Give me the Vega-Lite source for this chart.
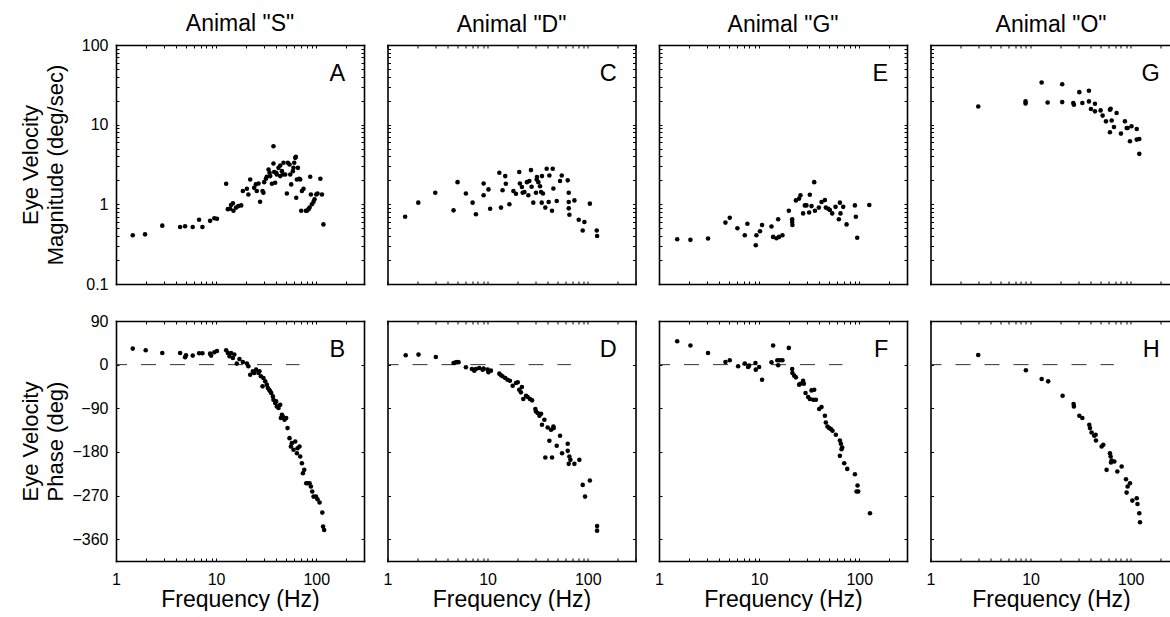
{
  "$schema": "https://vega.github.io/schema/vega-lite/v6.json",
  "padding": {"left": 18, "top": 13, "right": 0, "bottom": 0},
  "config": {
    "view": {"stroke": null},
    "font": "Liberation Sans",
    "axis": {
      "grid": false,
      "domainColor": "black",
      "domainWidth": 1.6,
      "domainCap": "square",
      "tickColor": "black",
      "tickWidth": 1,
      "tickSize": -3,
      "labelColor": "black",
      "labelFont": "Liberation Sans",
      "labelFontSize": 16,
      "labelFlush": false,
      "labelOverlap": false,
      "titleColor": "black",
      "titleFont": "Liberation Sans",
      "titleFontWeight": "normal"
    },
    "title": {"font": "Liberation Sans", "fontSize": 23, "fontWeight": "normal", "color": "black", "frame": "group", "anchor": "middle", "offset": 8},
    "circle": {"size": 21, "color": "black", "opacity": 1},
    "text": {"font": "Liberation Sans", "fontSize": 23.5, "color": "black", "align": "right", "baseline": "alphabetic"}
  },
  "datasets": {
    "S_mag": [
      {"f":1.47,"v":0.41},{"f":1.95,"v":0.42},{"f":2.9,"v":0.54},{"f":4.37,"v":0.52},{"f":4.9,"v":0.53},{"f":5.84,"v":0.52},{"f":6.76,"v":0.64},{"f":7.3,"v":0.52},{"f":8.71,"v":0.62},{"f":9.6,"v":0.67},{"f":10.2,"v":0.66},{"f":12.6,"v":1.81},{"f":13.1,"v":0.87},{"f":13.8,"v":0.88},{"f":14.1,"v":0.98},{"f":14.7,"v":1.03},{"f":14.9,"v":0.83},{"f":15.8,"v":0.91},{"f":16.7,"v":0.95},{"f":17.8,"v":0.97},{"f":18.5,"v":1.47},{"f":20.3,"v":1.57},{"f":21.0,"v":1.33},{"f":21.9,"v":2.05},{"f":24.0,"v":1.61},{"f":24.9,"v":1.78},{"f":25.5,"v":1.47},{"f":26.5,"v":1.83},{"f":27.5,"v":1.08},{"f":29.1,"v":1.47},{"f":29.7,"v":1.4},{"f":30.2,"v":1.9},{"f":31.4,"v":2.09},{"f":32.1,"v":2.22},{"f":33.4,"v":2.74},{"f":34.2,"v":2.49},{"f":34.7,"v":2.26},{"f":36.1,"v":1.81},{"f":37.4,"v":5.36},{"f":37.4,"v":3.25},{"f":38.0,"v":2.54},{"f":38.9,"v":1.87},{"f":39.8,"v":2.49},{"f":40.4,"v":2.37},{"f":42.0,"v":2.87},{"f":43.7,"v":3.07},{"f":43.7,"v":2.26},{"f":45.4,"v":2.61},{"f":46.4,"v":2.37},{"f":47.1,"v":3.32},{"f":49.0,"v":2.37},{"f":50.9,"v":1.37},{"f":52.1,"v":3.32},{"f":54.1,"v":3.16},{"f":55.0,"v":2.37},{"f":56.2,"v":1.78},{"f":58.4,"v":2.61},{"f":59.3,"v":2.87},{"f":60.3,"v":3.32},{"f":61.7,"v":3.83},{"f":62.6,"v":3.94},{"f":63.1,"v":1.21},{"f":64.1,"v":2.05},{"f":65.6,"v":2.87},{"f":67.6,"v":2.09},{"f":69.2,"v":2.05},{"f":70.8,"v":0.83},{"f":71.9,"v":1.47},{"f":74.7,"v":1.57},{"f":78.8,"v":0.83},{"f":80.7,"v":0.83},{"f":83.8,"v":0.87},{"f":85.8,"v":0.91},{"f":87.1,"v":2.22},{"f":88.4,"v":1.33},{"f":90.5,"v":1.0},{"f":94.0,"v":1.08},{"f":96.2,"v":1.16},{"f":100,"v":1.33},{"f":103,"v":1.37},{"f":110,"v":2.09},{"f":114,"v":1.33},{"f":118,"v":0.56}
    ],
    "S_ph": [
      {"f":1.47,"p":33.1},{"f":1.98,"p":29.6},{"f":2.9,"p":24.1},{"f":4.37,"p":24.1},{"f":4.9,"p":15.2},{"f":5.0,"p":19.3},{"f":5.84,"p":18.6},{"f":6.76,"p":23.4},{"f":7.3,"p":23.4},{"f":8.71,"p":22.7},{"f":8.91,"p":18.6},{"f":9.6,"p":25.5},{"f":10.2,"p":28.2},{"f":12.6,"p":29.6},{"f":13.1,"p":24.1},{"f":13.6,"p":17.2},{"f":14.1,"p":24.1},{"f":14.7,"p":13.8},{"f":15.2,"p":20.7},{"f":16.1,"p":2.1},{"f":17.1,"p":11.7},{"f":18.5,"p":5.5},{"f":20.3,"p":2.1},{"f":21.0,"p":-3.4},{"f":21.9,"p":-20.7},{"f":23.3,"p":-13.8},{"f":24.0,"p":-17.2},{"f":25.1,"p":-10.3},{"f":26.5,"p":-17.2},{"f":27.1,"p":-13.8},{"f":28.0,"p":-24.1},{"f":29.1,"p":-44.8},{"f":29.7,"p":-27.6},{"f":30.9,"p":-34.5},{"f":32.1,"p":-41.3},{"f":32.9,"p":-48.2},{"f":33.9,"p":-51.7},{"f":34.7,"p":-55.1},{"f":35.5,"p":-58.6},{"f":36.9,"p":-65.5},{"f":37.4,"p":-72.3},{"f":38.9,"p":-79.2},{"f":39.8,"p":-75.8},{"f":40.4,"p":-86.1},{"f":42.0,"p":-89.6},{"f":43.7,"p":-82.7},{"f":44.3,"p":-110.2},{"f":45.4,"p":-103.4},{"f":46.4,"p":-106.8},{"f":48.2,"p":-113.7},{"f":50.1,"p":-110.2},{"f":51.7,"p":-130.9},{"f":54.1,"p":-151.6},{"f":55.8,"p":-168.8},{"f":57.1,"p":-161.9},{"f":59.3,"p":-175.7},{"f":61.7,"p":-158.5},{"f":64.1,"p":-182.6},{"f":65.0,"p":-172.3},{"f":68.1,"p":-168.8},{"f":69.2,"p":-189.5},{"f":71.9,"p":-203.3},{"f":73.6,"p":-223.9},{"f":75.9,"p":-217},{"f":79.4,"p":-244.6},{"f":81.9,"p":-244.6},{"f":85.8,"p":-244.6},{"f":88.4,"p":-251.5},{"f":91.2,"p":-261.8},{"f":94.0,"p":-272.2},{"f":99.3,"p":-272.2},{"f":103,"p":-277.6},{"f":108,"p":-284.5},{"f":115,"p":-305.2},{"f":117,"p":-334.1},{"f":120,"p":-341}
    ],
    "D_mag": [
      {"f":1.5,"v":0.7},{"f":2.03,"v":1.05},{"f":3.0,"v":1.4},{"f":4.57,"v":0.84},{"f":5.01,"v":1.9},{"f":6.07,"v":1.37},{"f":7.08,"v":1.05},{"f":7.64,"v":0.75},{"f":9.12,"v":1.83},{"f":9.12,"v":1.3},{"f":10.2,"v":1.54},{"f":10.6,"v":0.88},{"f":13.1,"v":2.49},{"f":13.6,"v":0.91},{"f":14.1,"v":1.5},{"f":15.0,"v":2.26},{"f":15.2,"v":1.81},{"f":16.5,"v":1.0},{"f":18.1,"v":1.47},{"f":19.2,"v":1.36},{"f":20.7,"v":2.54},{"f":21.0,"v":1.83},{"f":22.0,"v":1.65},{"f":22.4,"v":1.4},{"f":23.3,"v":1.43},{"f":24.7,"v":1.9},{"f":25.5,"v":1.3},{"f":26.1,"v":1.96},{"f":27.1,"v":2.69},{"f":27.5,"v":1.66},{"f":28.6,"v":1.05},{"f":30.4,"v":1.4},{"f":30.9,"v":2.05},{"f":31.1,"v":2.2},{"f":32.1,"v":1.9},{"f":33.4,"v":1.69},{"f":34.2,"v":1.43},{"f":34.7,"v":1.05},{"f":34.9,"v":2.26},{"f":35.7,"v":1.37},{"f":37.7,"v":0.91},{"f":38.9,"v":2.79},{"f":40.7,"v":1.07},{"f":41.4,"v":2.3},{"f":44.0,"v":0.83},{"f":44.7,"v":2.79},{"f":45.4,"v":1.58},{"f":49.0,"v":1.1},{"f":52.9,"v":1.96},{"f":55.0,"v":2.3},{"f":63.1,"v":2.0},{"f":64.6,"v":1.4},{"f":64.6,"v":1.07},{"f":64.6,"v":0.89},{"f":65.6,"v":0.74},{"f":73.6,"v":1.12},{"f":81.3,"v":0.64},{"f":92.6,"v":0.6},{"f":89.1,"v":0.47},{"f":105,"v":1.02},{"f":123,"v":0.47},{"f":124,"v":0.4}
    ],
    "D_ph": [
      {"f":1.52,"p":19.3},{"f":2.04,"p":20.7},{"f":3.04,"p":15.8},{"f":4.57,"p":3.4},{"f":4.82,"p":4.8},{"f":5.01,"p":5.5},{"f":5.13,"p":4.8},{"f":6.07,"p":-5.5},{"f":6.97,"p":-9.0},{"f":7.36,"p":-12.4},{"f":7.64,"p":-9.0},{"f":8.25,"p":-6.9},{"f":8.91,"p":-10.3},{"f":9.12,"p":-8.3},{"f":10.0,"p":-10.3},{"f":10.2,"p":-15.8},{"f":10.8,"p":-12.4},{"f":13.1,"p":-18.6},{"f":13.6,"p":-22.0},{"f":14.1,"p":-24.1},{"f":15.0,"p":-27.6},{"f":15.8,"p":-31.0},{"f":16.7,"p":-33.1},{"f":17.8,"p":-43.4},{"f":19.2,"p":-37.9},{"f":20.0,"p":-36.5},{"f":20.7,"p":-51.7},{"f":21.5,"p":-57.2},{"f":22.0,"p":-46.2},{"f":22.7,"p":-71.0},{"f":24.2,"p":-64.1},{"f":25.1,"p":-66.8},{"f":26.5,"p":-71.0},{"f":27.8,"p":-73.7},{"f":30.0,"p":-91.6},{"f":30.4,"p":-96.5},{"f":31.6,"p":-99.9},{"f":32.9,"p":-105.4},{"f":34.2,"p":-101.3},{"f":34.9,"p":-124.0},{"f":36.9,"p":-113.7},{"f":37.7,"p":-191.5},{"f":39.8,"p":-129.5},{"f":41.4,"p":-157.1},{"f":43.0,"p":-134.4},{"f":44.0,"p":-191.5},{"f":45.4,"p":-127.5},{"f":45.7,"p":-130.9},{"f":49.0,"p":-167.4},{"f":52.9,"p":-146.8},{"f":55.4,"p":-182.6},{"f":63.1,"p":-163.3},{"f":63.1,"p":-177.8},{"f":64.6,"p":-204.6},{"f":65.6,"p":-189.5},{"f":67.1,"p":-196.4},{"f":73.6,"p":-204.6},{"f":82.5,"p":-196.4},{"f":89.1,"p":-248.0},{"f":94.0,"p":-272.2},{"f":105,"p":-239.1},{"f":124,"p":-332.8},{"f":124,"p":-342.4}
    ],
    "G_mag": [
      {"f":1.52,"v":0.365},{"f":2.06,"v":0.358},{"f":3.09,"v":0.372},{"f":4.61,"v":0.59},{"f":5.09,"v":0.68},{"f":6.07,"v":0.5},{"f":7.19,"v":0.41},{"f":7.64,"v":0.57},{"f":9.26,"v":0.307},{"f":9.4,"v":0.41},{"f":10.2,"v":0.46},{"f":10.7,"v":0.55},{"f":13.3,"v":0.526},{"f":13.8,"v":0.39},{"f":14.9,"v":0.376},{"f":15.5,"v":0.65},{"f":15.8,"v":0.39},{"f":17.1,"v":0.41},{"f":19.8,"v":0.83},{"f":21.4,"v":0.65},{"f":21.4,"v":0.6},{"f":21.5,"v":0.55},{"f":23.3,"v":1.12},{"f":25.1,"v":1.18},{"f":25.9,"v":1.3},{"f":27.5,"v":0.77},{"f":28.6,"v":0.97},{"f":29.7,"v":0.97},{"f":31.6,"v":0.79},{"f":32.1,"v":1.32},{"f":33.4,"v":0.95},{"f":35.5,"v":1.9},{"f":36.1,"v":0.83},{"f":39.5,"v":0.91},{"f":42.0,"v":1.07},{"f":45.4,"v":1.13},{"f":46.4,"v":0.91},{"f":49.0,"v":0.88},{"f":50.9,"v":0.85},{"f":53.7,"v":0.77},{"f":58.0,"v":0.93},{"f":62.6,"v":0.65},{"f":64.1,"v":1.05},{"f":65.0,"v":0.77},{"f":69.2,"v":0.93},{"f":74.7,"v":0.56},{"f":90.5,"v":0.97},{"f":92.6,"v":0.7},{"f":95.5,"v":0.38},{"f":126,"v":0.98}
    ],
    "G_ph": [
      {"f":1.52,"p":48.2},{"f":2.06,"p":39.3},{"f":3.09,"p":24.1},{"f":4.61,"p":5.5},{"f":5.09,"p":9.0},{"f":6.17,"p":-3.4},{"f":7.19,"p":2.1},{"f":7.76,"p":-4.8},{"f":7.94,"p":-2.1},{"f":9.19,"p":3.4},{"f":9.26,"p":-10.3},{"f":10.0,"p":-4.8},{"f":10.7,"p":-31.0},{"f":13.3,"p":4.8},{"f":13.8,"p":39.3},{"f":15.2,"p":9.0},{"f":15.5,"p":-1.4},{"f":16.1,"p":9.0},{"f":17.1,"p":9.0},{"f":19.8,"p":34.5},{"f":21.4,"p":-9.0},{"f":21.5,"p":-17.2},{"f":22.4,"p":-22.7},{"f":23.3,"p":-26.2},{"f":25.1,"p":-41.3},{"f":25.9,"p":-39.3},{"f":27.5,"p":-33.1},{"f":28.0,"p":-39.3},{"f":29.1,"p":-58.6},{"f":30.9,"p":-66.8},{"f":32.1,"p":-71.0},{"f":33.4,"p":-53.1},{"f":34.7,"p":-72.3},{"f":35.5,"p":-51.7},{"f":36.9,"p":-72.3},{"f":39.8,"p":-91.6},{"f":42.0,"p":-87.5},{"f":45.4,"p":-105.4},{"f":46.4,"p":-119.2},{"f":48.2,"p":-127.5},{"f":50.1,"p":-130.9},{"f":52.1,"p":-133.0},{"f":54.1,"p":-136.4},{"f":58.4,"p":-144.7},{"f":64.1,"p":-156.4},{"f":65.6,"p":-163.3},{"f":66.6,"p":-174.3},{"f":67.6,"p":-170.9},{"f":64.1,"p":-188.1},{"f":70.8,"p":-203.3},{"f":75.9,"p":-215.0},{"f":90.5,"p":-226.0},{"f":96.2,"p":-249.4},{"f":97.7,"p":-261.8},{"f":94.0,"p":-261.8},{"f":128,"p":-306.6}
    ],
    "O_mag": [
      {"f":3.0,"v":16.9},{"f":8.91,"v":19.6},{"f":8.91,"v":18.5},{"f":12.9,"v":33.8},{"f":14.8,"v":19.0},{"f":20.7,"v":32.2},{"f":20.7,"v":19.2},{"f":26.7,"v":18.7},{"f":27.1,"v":17.8},{"f":30.7,"v":25.6},{"f":32.9,"v":18.7},{"f":38.3,"v":26.6},{"f":38.3,"v":19.6},{"f":40.1,"v":15.7},{"f":44.0,"v":18.3},{"f":44.0,"v":14.7},{"f":50.1,"v":15.1},{"f":52.5,"v":13.0},{"f":56.7,"v":11.0},{"f":62.1,"v":15.4},{"f":63.1,"v":15.8},{"f":64.6,"v":11.3},{"f":62.1,"v":8.02},{"f":68.1,"v":9.35},{"f":72.4,"v":14.0},{"f":80.0,"v":7.72},{"f":87.7,"v":11.0},{"f":91.2,"v":9.08},{"f":93.3,"v":9.08},{"f":98.5,"v":6.19},{"f":102,"v":9.53},{"f":115,"v":8.83},{"f":115,"v":6.49},{"f":122,"v":6.62},{"f":122,"v":4.3}
    ],
    "O_ph": [
      {"f":3.0,"p":20.0},{"f":8.98,"p":-11.7},{"f":12.9,"p":-29.6},{"f":15.0,"p":-34.5},{"f":20.9,"p":-64.1},{"f":26.9,"p":-81.3},{"f":27.1,"p":-86.1},{"f":30.7,"p":-105.4},{"f":32.9,"p":-110.2},{"f":38.6,"p":-124.0},{"f":39.2,"p":-130.9},{"f":40.7,"p":-139.9},{"f":43.3,"p":-146.8},{"f":44.7,"p":-144.7},{"f":45.0,"p":-156.4},{"f":51.3,"p":-168.8},{"f":53.3,"p":-165.4},{"f":57.5,"p":-217.0},{"f":62.1,"p":-182.6},{"f":63.1,"p":-189.5},{"f":63.6,"p":-201.9},{"f":64.6,"p":-197.7},{"f":68.7,"p":-199.8},{"f":73.6,"p":-220.5},{"f":81.3,"p":-210.1},{"f":89.8,"p":-236.3},{"f":91.2,"p":-263.9},{"f":93.3,"p":-251.5},{"f":98.5,"p":-244.6},{"f":104,"p":-280.4},{"f":115,"p":-275.6},{"f":117,"p":-287.3},{"f":122,"p":-306.6},{"f":124,"p":-325.2}
    ]
  },
  "columns": 4,
  "align": "each",
  "spacing": {"row": 21, "column": 17.5},
  "concat": [
    {
      "title": {"text": "Animal \"S\"", "offset": 0.75},
      "width": 248, "height": 239,
      "layer": [
        {"data": {"name": "S_mag"}, "mark": "circle",
         "encoding": {
           "x": {"field": "f", "type": "quantitative", "scale": {"type": "log", "domain": [1, 300], "nice": false},
                 "axis": {"orient": "bottom", "values": [1,2,3,4,5,6,7,8,9,10,20,30,40,50,60,70,80,90,100,200,300], "labels": false, "title": null}},
           "y": {"field": "v", "type": "quantitative", "scale": {"type": "log", "domain": [0.1, 100], "nice": false},
                 "axis": {"orient": "left", "values": [0.1,0.2,0.3,0.4,0.5,0.6,0.7,0.8,0.9,1,2,3,4,5,6,7,8,9,10,20,30,40,50,60,70,80,90,100],
                          "labelExpr": "datum.value == 0.1 ? '0.1' : datum.value == 1 ? '1' : datum.value == 10 ? '10' : datum.value == 100 ? '100' : ''",
                          "labelPadding": 11, "title": ["Eye Velocity", "Magnitude  (deg/sec)"], "titleFontSize": 22, "titleLineHeight": 25, "titleX": -86, "titleBaseline": "middle"}}
         }},
        {"data": {"values": [{"panel": "A"}]}, "mark": "text",
         "encoding": {
           "text": {"field": "panel"},
           "x": {"datum": 195, "type": "quantitative", "scale": {"type": "log", "domain": [1, 300], "nice": false},
                 "axis": {"orient": "top", "values": [1,2,3,4,5,6,7,8,9,10,20,30,40,50,60,70,80,90,100,200,300], "labels": false, "title": null}},
           "y": {"datum": 35, "type": "quantitative", "scale": {"type": "log", "domain": [0.1, 100], "nice": false},
                 "axis": {"orient": "right", "values": [0.1,0.2,0.3,0.4,0.5,0.6,0.7,0.8,0.9,1,2,3,4,5,6,7,8,9,10,20,30,40,50,60,70,80,90,100], "labels": false, "title": null}}
         }}
      ],
      "resolve": {"axis": {"x": "independent", "y": "independent"}}
    },
    {
      "title": "Animal \"D\"",
      "width": 248, "height": 239,
      "layer": [
        {"data": {"name": "D_mag"}, "mark": "circle",
         "encoding": {
           "x": {"field": "f", "type": "quantitative", "scale": {"type": "log", "domain": [1, 300], "nice": false},
                 "axis": {"orient": "bottom", "values": [1,2,3,4,5,6,7,8,9,10,20,30,40,50,60,70,80,90,100,200,300], "labels": false, "title": null}},
           "y": {"field": "v", "type": "quantitative", "scale": {"type": "log", "domain": [0.1, 100], "nice": false},
                 "axis": {"orient": "left", "values": [0.1,0.2,0.3,0.4,0.5,0.6,0.7,0.8,0.9,1,2,3,4,5,6,7,8,9,10,20,30,40,50,60,70,80,90,100], "labels": false, "title": null}}
         }},
        {"data": {"values": [{"panel": "C"}]}, "mark": "text",
         "encoding": {
           "text": {"field": "panel"},
           "x": {"datum": 195, "type": "quantitative", "scale": {"type": "log", "domain": [1, 300], "nice": false},
                 "axis": {"orient": "top", "values": [1,2,3,4,5,6,7,8,9,10,20,30,40,50,60,70,80,90,100,200,300], "labels": false, "title": null}},
           "y": {"datum": 35, "type": "quantitative", "scale": {"type": "log", "domain": [0.1, 100], "nice": false},
                 "axis": {"orient": "right", "values": [0.1,0.2,0.3,0.4,0.5,0.6,0.7,0.8,0.9,1,2,3,4,5,6,7,8,9,10,20,30,40,50,60,70,80,90,100], "labels": false, "title": null}}
         }}
      ],
      "resolve": {"axis": {"x": "independent", "y": "independent"}}
    },
    {
      "title": "Animal \"G\"",
      "width": 248, "height": 239,
      "layer": [
        {"data": {"name": "G_mag"}, "mark": "circle",
         "encoding": {
           "x": {"field": "f", "type": "quantitative", "scale": {"type": "log", "domain": [1, 300], "nice": false},
                 "axis": {"orient": "bottom", "values": [1,2,3,4,5,6,7,8,9,10,20,30,40,50,60,70,80,90,100,200,300], "labels": false, "title": null}},
           "y": {"field": "v", "type": "quantitative", "scale": {"type": "log", "domain": [0.1, 100], "nice": false},
                 "axis": {"orient": "left", "values": [0.1,0.2,0.3,0.4,0.5,0.6,0.7,0.8,0.9,1,2,3,4,5,6,7,8,9,10,20,30,40,50,60,70,80,90,100], "labels": false, "title": null}}
         }},
        {"data": {"values": [{"panel": "E"}]}, "mark": "text",
         "encoding": {
           "text": {"field": "panel"},
           "x": {"datum": 195, "type": "quantitative", "scale": {"type": "log", "domain": [1, 300], "nice": false},
                 "axis": {"orient": "top", "values": [1,2,3,4,5,6,7,8,9,10,20,30,40,50,60,70,80,90,100,200,300], "labels": false, "title": null}},
           "y": {"datum": 35, "type": "quantitative", "scale": {"type": "log", "domain": [0.1, 100], "nice": false},
                 "axis": {"orient": "right", "values": [0.1,0.2,0.3,0.4,0.5,0.6,0.7,0.8,0.9,1,2,3,4,5,6,7,8,9,10,20,30,40,50,60,70,80,90,100], "labels": false, "title": null}}
         }}
      ],
      "resolve": {"axis": {"x": "independent", "y": "independent"}}
    },
    {
      "title": "Animal \"O\"",
      "width": 241, "height": 239,
      "layer": [
        {"data": {"name": "O_mag"}, "mark": "circle",
         "encoding": {
           "x": {"field": "f", "type": "quantitative", "scale": {"type": "log", "domain": [1, 256], "nice": false},
                 "axis": {"orient": "bottom", "values": [1,2,3,4,5,6,7,8,9,10,20,30,40,50,60,70,80,90,100,200], "labels": false, "title": null}},
           "y": {"field": "v", "type": "quantitative", "scale": {"type": "log", "domain": [0.1, 100], "nice": false},
                 "axis": {"orient": "left", "values": [0.1,0.2,0.3,0.4,0.5,0.6,0.7,0.8,0.9,1,2,3,4,5,6,7,8,9,10,20,30,40,50,60,70,80,90,100], "labels": false, "title": null}}
         }},
        {"data": {"values": [{"panel": "G"}]}, "mark": "text",
         "encoding": {
           "text": {"field": "panel"},
           "x": {"datum": 195, "type": "quantitative", "scale": {"type": "log", "domain": [1, 256], "nice": false},
                 "axis": {"orient": "top", "values": [1,2,3,4,5,6,7,8,9,10,20,30,40,50,60,70,80,90,100,200], "labels": false, "title": null}},
           "y": {"datum": 35, "type": "quantitative", "scale": {"type": "log", "domain": [0.1, 100], "nice": false}, "axis": null}
         }}
      ],
      "resolve": {"axis": {"x": "independent", "y": "independent"}}
    },
    {
      "width": 248, "height": 240,
      "layer": [
        {"data": {"values": [{}]}, "mark": {"type": "rule", "strokeDash": [15, 14], "strokeDashOffset": 4, "color": "#333333", "strokeWidth": 1},
         "encoding": {
           "x": {"datum": 1, "type": "quantitative", "scale": {"type": "log", "domain": [1, 300], "nice": false}, "axis": null},
           "x2": {"datum": 68},
           "y": {"datum": 0, "type": "quantitative", "scale": {"domain": [-405, 90], "nice": false, "zero": false}, "axis": null}
         }},
        {"data": {"name": "S_ph"}, "mark": "circle",
         "encoding": {
           "x": {"field": "f", "type": "quantitative", "scale": {"type": "log", "domain": [1, 300], "nice": false},
                 "axis": {"orient": "bottom", "values": [1,2,3,4,5,6,7,8,9,10,20,30,40,50,60,70,80,90,100,200,300],
                          "labelExpr": "datum.value == 1 ? '1' : datum.value == 10 ? '10' : datum.value == 100 ? '100' : ''",
                          "labelPadding": 13, "title": "Frequency (Hz)", "titleFontSize": 23, "titlePadding": 1}},
           "y": {"field": "p", "type": "quantitative", "scale": {"domain": [-405, 90], "nice": false, "zero": false},
                 "axis": {"orient": "left", "values": [90, 0, -90, -180, -270, -360], "labelPadding": 11,
                          "title": ["Eye Velocity", "Phase  (deg)"], "titleFontSize": 22, "titleLineHeight": 25, "titleX": -86, "titleBaseline": "middle"}}
         }},
        {"data": {"values": [{"panel": "B"}]}, "mark": "text",
         "encoding": {
           "text": {"field": "panel"},
           "x": {"datum": 195, "type": "quantitative", "scale": {"type": "log", "domain": [1, 300], "nice": false},
                 "axis": {"orient": "top", "values": [1,2,3,4,5,6,7,8,9,10,20,30,40,50,60,70,80,90,100,200,300], "labels": false, "title": null}},
           "y": {"datum": 16, "type": "quantitative", "scale": {"domain": [-405, 90], "nice": false, "zero": false},
                 "axis": {"orient": "right", "values": [90, 0, -90, -180, -270, -360], "labels": false, "title": null}}
         }}
      ],
      "resolve": {"axis": {"x": "independent", "y": "independent"}}
    },
    {
      "width": 248, "height": 240,
      "layer": [
        {"data": {"values": [{}]}, "mark": {"type": "rule", "strokeDash": [15, 14], "strokeDashOffset": 4, "color": "#333333", "strokeWidth": 1},
         "encoding": {
           "x": {"datum": 1, "type": "quantitative", "scale": {"type": "log", "domain": [1, 300], "nice": false}, "axis": null},
           "x2": {"datum": 68},
           "y": {"datum": 0, "type": "quantitative", "scale": {"domain": [-405, 90], "nice": false, "zero": false}, "axis": null}
         }},
        {"data": {"name": "D_ph"}, "mark": "circle",
         "encoding": {
           "x": {"field": "f", "type": "quantitative", "scale": {"type": "log", "domain": [1, 300], "nice": false},
                 "axis": {"orient": "bottom", "values": [1,2,3,4,5,6,7,8,9,10,20,30,40,50,60,70,80,90,100,200,300],
                          "labelExpr": "datum.value == 1 ? '1' : datum.value == 10 ? '10' : datum.value == 100 ? '100' : ''",
                          "labelPadding": 13, "title": "Frequency (Hz)", "titleFontSize": 23, "titlePadding": 1}},
           "y": {"field": "p", "type": "quantitative", "scale": {"domain": [-405, 90], "nice": false, "zero": false},
                 "axis": {"orient": "left", "values": [90, 0, -90, -180, -270, -360], "labels": false, "title": null}}
         }},
        {"data": {"values": [{"panel": "D"}]}, "mark": "text",
         "encoding": {
           "text": {"field": "panel"},
           "x": {"datum": 195, "type": "quantitative", "scale": {"type": "log", "domain": [1, 300], "nice": false},
                 "axis": {"orient": "top", "values": [1,2,3,4,5,6,7,8,9,10,20,30,40,50,60,70,80,90,100,200,300], "labels": false, "title": null}},
           "y": {"datum": 16, "type": "quantitative", "scale": {"domain": [-405, 90], "nice": false, "zero": false},
                 "axis": {"orient": "right", "values": [90, 0, -90, -180, -270, -360], "labels": false, "title": null}}
         }}
      ],
      "resolve": {"axis": {"x": "independent", "y": "independent"}}
    },
    {
      "width": 248, "height": 240,
      "layer": [
        {"data": {"values": [{}]}, "mark": {"type": "rule", "strokeDash": [15, 14], "strokeDashOffset": 4, "color": "#333333", "strokeWidth": 1},
         "encoding": {
           "x": {"datum": 1, "type": "quantitative", "scale": {"type": "log", "domain": [1, 300], "nice": false}, "axis": null},
           "x2": {"datum": 68},
           "y": {"datum": 0, "type": "quantitative", "scale": {"domain": [-405, 90], "nice": false, "zero": false}, "axis": null}
         }},
        {"data": {"name": "G_ph"}, "mark": "circle",
         "encoding": {
           "x": {"field": "f", "type": "quantitative", "scale": {"type": "log", "domain": [1, 300], "nice": false},
                 "axis": {"orient": "bottom", "values": [1,2,3,4,5,6,7,8,9,10,20,30,40,50,60,70,80,90,100,200,300],
                          "labelExpr": "datum.value == 1 ? '1' : datum.value == 10 ? '10' : datum.value == 100 ? '100' : ''",
                          "labelPadding": 13, "title": "Frequency (Hz)", "titleFontSize": 23, "titlePadding": 1}},
           "y": {"field": "p", "type": "quantitative", "scale": {"domain": [-405, 90], "nice": false, "zero": false},
                 "axis": {"orient": "left", "values": [90, 0, -90, -180, -270, -360], "labels": false, "title": null}}
         }},
        {"data": {"values": [{"panel": "F"}]}, "mark": "text",
         "encoding": {
           "text": {"field": "panel"},
           "x": {"datum": 195, "type": "quantitative", "scale": {"type": "log", "domain": [1, 300], "nice": false},
                 "axis": {"orient": "top", "values": [1,2,3,4,5,6,7,8,9,10,20,30,40,50,60,70,80,90,100,200,300], "labels": false, "title": null}},
           "y": {"datum": 16, "type": "quantitative", "scale": {"domain": [-405, 90], "nice": false, "zero": false},
                 "axis": {"orient": "right", "values": [90, 0, -90, -180, -270, -360], "labels": false, "title": null}}
         }}
      ],
      "resolve": {"axis": {"x": "independent", "y": "independent"}}
    },
    {
      "width": 241, "height": 240,
      "layer": [
        {"data": {"values": [{}]}, "mark": {"type": "rule", "strokeDash": [15, 14], "strokeDashOffset": 4, "color": "#333333", "strokeWidth": 1},
         "encoding": {
           "x": {"datum": 1, "type": "quantitative", "scale": {"type": "log", "domain": [1, 256], "nice": false}, "axis": null},
           "x2": {"datum": 68},
           "y": {"datum": 0, "type": "quantitative", "scale": {"domain": [-405, 90], "nice": false, "zero": false}, "axis": null}
         }},
        {"data": {"name": "O_ph"}, "mark": "circle",
         "encoding": {
           "x": {"field": "f", "type": "quantitative", "scale": {"type": "log", "domain": [1, 256], "nice": false},
                 "axis": {"orient": "bottom", "values": [1,2,3,4,5,6,7,8,9,10,20,30,40,50,60,70,80,90,100,200],
                          "labelExpr": "datum.value == 1 ? '1' : datum.value == 10 ? '10' : datum.value == 100 ? '100' : ''",
                          "labelPadding": 13, "title": "Frequency (Hz)", "titleFontSize": 23, "titlePadding": 1}},
           "y": {"field": "p", "type": "quantitative", "scale": {"domain": [-405, 90], "nice": false, "zero": false},
                 "axis": {"orient": "left", "values": [90, 0, -90, -180, -270, -360], "labels": false, "title": null}}
         }},
        {"data": {"values": [{"panel": "H"}]}, "mark": "text",
         "encoding": {
           "text": {"field": "panel"},
           "x": {"datum": 195, "type": "quantitative", "scale": {"type": "log", "domain": [1, 256], "nice": false},
                 "axis": {"orient": "top", "values": [1,2,3,4,5,6,7,8,9,10,20,30,40,50,60,70,80,90,100,200], "labels": false, "title": null}},
           "y": {"datum": 16, "type": "quantitative", "scale": {"domain": [-405, 90], "nice": false, "zero": false}, "axis": null}
         }}
      ],
      "resolve": {"axis": {"x": "independent", "y": "independent"}}
    }
  ]
}
